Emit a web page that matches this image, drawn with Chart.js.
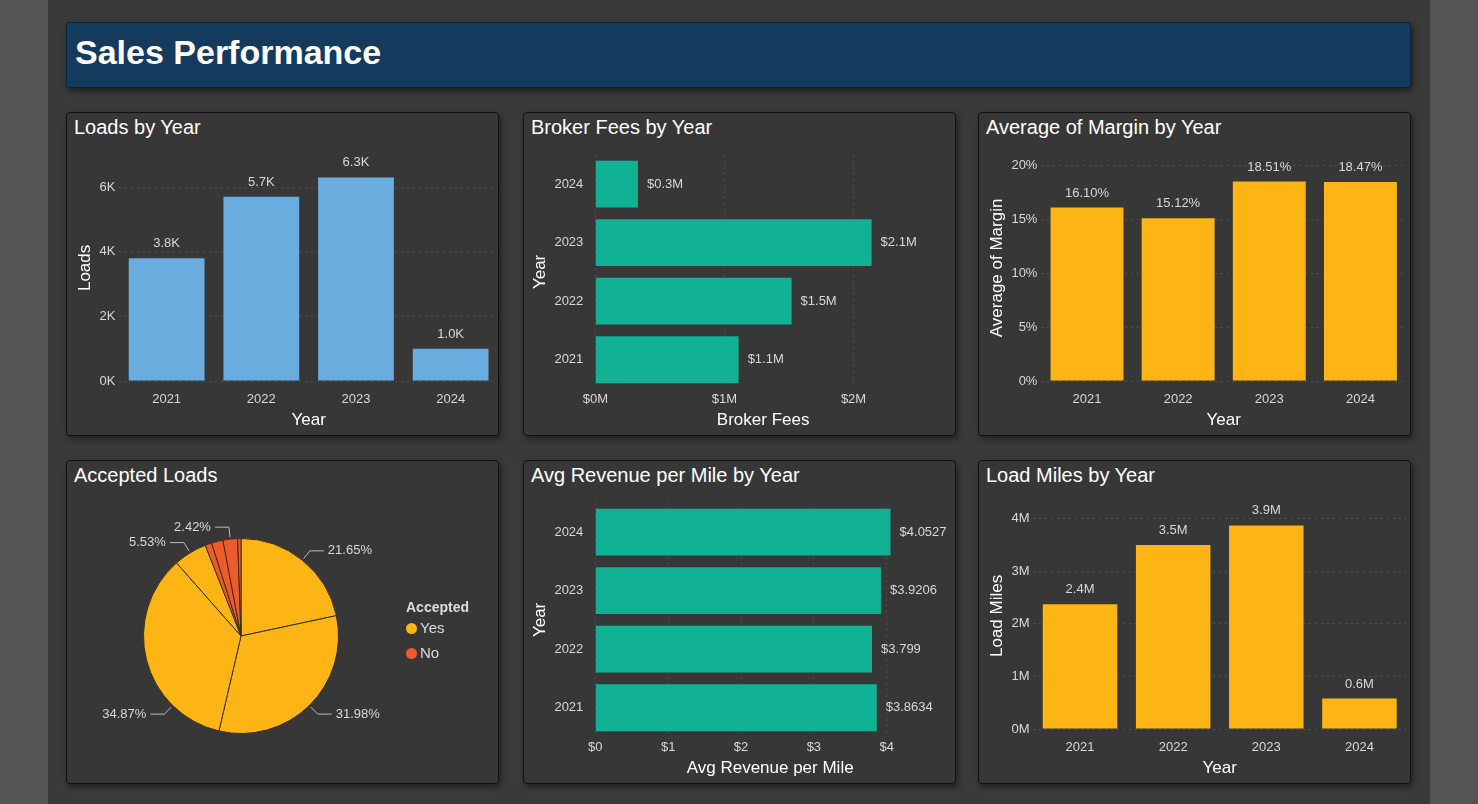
<!DOCTYPE html>
<html>
<head>
<meta charset="utf-8">
<script src="https://cdn.jsdelivr.net/npm/chart.js@4.4.0/dist/chart.umd.min.js"></script>
<style>
  html, body { margin: 0; padding: 0; }
  body { width: 1478px; height: 804px; background: #555; font-family: "Segoe UI", "Open Sans", Arial, sans-serif; position: relative; overflow: hidden; }
  .page { position: absolute; left: 48px; top: 0; width: 1382px; height: 804px; background: #3a3a3a; }
  .header { position: absolute; left: 66px; top: 22px; width: 1343px; height: 64px; background: #143a5e; border: 1px solid #0c2238; border-radius: 3px; box-shadow: 2px 3px 6px rgba(0,0,0,.5); }
  .header h1 { margin: 0; color: #fff; font: bold 34px "Liberation Sans", Arial, sans-serif; position: absolute; left: 8px; top: 10px; }
  .panel { position: absolute; width: 431px; height: 322px; background: #373737; border: 1px solid #111; border-radius: 4px; box-shadow: 2px 3px 6px rgba(0,0,0,.45); }
  .panel .t { position: absolute; left: 7px; top: 3px; color: #fff; font: 20px "Liberation Sans", Arial, sans-serif; }
  .panel canvas { position: absolute; left: 0; top: 30px; }
  .legend { position: absolute; left: 339px; top: 138px; color: #ddd; font: 15px "Liberation Sans", Arial, sans-serif; }
  .legend b { display: block; font-size: 14px; margin-bottom: 4px; }
  .legend div { margin-bottom: 8px; }
  .legend i { display: inline-block; width: 11px; height: 11px; border-radius: 50%; margin-right: 3px; vertical-align: -1px; }
</style>
</head>
<body>
<div class="page"></div>
<div class="header"><h1>Sales Performance</h1></div>
<div class="panel" style="left:66px;top:112px"><div class="t">Loads by Year</div><canvas id="c1" width="431" height="290"></canvas></div>
<div class="panel" style="left:523px;top:112px"><div class="t">Broker Fees by Year</div><canvas id="c2" width="431" height="290"></canvas></div>
<div class="panel" style="left:978px;top:112px"><div class="t">Average of Margin by Year</div><canvas id="c3" width="431" height="290"></canvas></div>
<div class="panel" style="left:66px;top:460px"><div class="t">Accepted Loads</div><canvas id="c4" width="431" height="290"></canvas>
  <div class="legend"><b>Accepted</b><div><i style="background:#fdb515"></i>Yes</div><div><i style="background:#ef5a2a"></i>No</div></div></div>
<div class="panel" style="left:523px;top:460px"><div class="t">Avg Revenue per Mile by Year</div><canvas id="c5" width="431" height="290"></canvas></div>
<div class="panel" style="left:978px;top:460px"><div class="t">Load Miles by Year</div><canvas id="c6" width="431" height="290"></canvas></div>
<script>
// data
const years = ['2021', '2022', '2023', '2024'];
const yearsDesc = ['2024', '2023', '2022', '2021'];
const loads = [3800, 5700, 6300, 1000];
const loadsTicks = [0, 2000, 4000, 6000];
const brokerFees = [0.33, 2.14, 1.52, 1.11];          // $M, 2024..2021
const brokerTicks = [0, 1, 2];
const margin = [16.10, 15.12, 18.51, 18.47];           // %
const marginTicks = [0, 5, 10, 15, 20];
const acceptedShares = [21.65, 31.98, 34.87, 5.53, 1.1, 1.9, 2.42, 0.55];
const acceptedFlags = ['Yes', 'Yes', 'Yes', 'Yes', 'No', 'No', 'No', 'No'];
const acceptedLabels = ['21.65%', '31.98%', '34.87%', '5.53%', '', '', '2.42%', ''];
const revPerMile = [4.0527, 3.9206, 3.799, 3.8634];    // 2024..2021
const revPerMileLabels = ['$4.0527', '$3.9206', '$3.799', '$3.8634'];
const revTicks = [0, 1, 2, 3, 4];
const loadMiles = [2.37, 3.5, 3.87, 0.58];             // M
const milesTicks = [0, 1, 2, 3, 4];

const FONT = 'Liberation Sans, Arial, sans-serif';
const TXT = '#d8d8d8';
Chart.defaults.font.family = FONT;
Chart.defaults.color = TXT;
Chart.defaults.animation = false;

// draws value labels above / beside bars
const valueLabels = {
  id: 'valueLabels',
  afterDatasetsDraw(chart, args, opts) {
    const ctx = chart.ctx;
    const meta = chart.getDatasetMeta(0);
    ctx.save();
    ctx.font = '13px ' + FONT;
    ctx.fillStyle = TXT;
    meta.data.forEach((el, i) => {
      const txt = opts.texts[i];
      if (chart.options.indexAxis === 'y') {
        ctx.textAlign = 'left'; ctx.textBaseline = 'middle';
        ctx.fillText(txt, el.x + 9, el.y);
      } else {
        ctx.textAlign = 'center'; ctx.textBaseline = 'bottom';
        ctx.fillText(txt, el.x, el.y - 8);
      }
    });
    ctx.restore();
  }
};

function axisTitle(text) {
  return { display: true, text: text, color: '#fff', font: { size: 17, family: FONT }, padding: 0 };
}

function barChart(id, labels, data, color, texts, opt) {
  const horiz = opt.horizontal;
  const valAxis = {
    min: 0, max: opt.max,
    grid: { color: 'rgba(255,255,255,0.13)', drawTicks: false },
    border: { display: false, dash: [2, 4] },
    afterBuildTicks: axis => { axis.ticks = opt.ticks.map(v => ({ value: v })); },
    ticks: { font: { size: 13 }, padding: horiz ? 3 : 4, autoSkip: false, callback: v => opt.fmt(v) },
    title: axisTitle(opt.valTitle)
  };
  const catAxis = {
    grid: { display: false }, border: { display: false },
    ticks: { font: { size: 13 }, padding: horiz ? 4 : 3 },
    title: axisTitle(opt.catTitle)
  };
  return new Chart(document.getElementById(id), {
    type: 'bar',
    data: { labels: labels, datasets: [{ data: data, backgroundColor: color, barPercentage: 0.8, categoryPercentage: 1 }] },
    options: {
      responsive: false,
      indexAxis: horiz ? 'y' : 'x',
      layout: { padding: opt.pad },
      plugins: { legend: { display: false }, tooltip: { enabled: false }, valueLabels: { texts: texts } },
      scales: horiz ? { x: valAxis, y: catAxis } : { x: catAxis, y: valAxis }
    },
    plugins: [valueLabels]
  });
}

barChart('c1', years, loads, '#6cade0', ['3.8K', '5.7K', '6.3K', '1.0K'],
  { max: 7000, ticks: loadsTicks, fmt: v => (v / 1000) + 'K', valTitle: 'Loads', catTitle: 'Year',
    pad: { left: 8, right: 0, top: 10, bottom: 2 } });

barChart('c2', yearsDesc, brokerFees, '#11b293', ['$0.3M', '$2.1M', '$1.5M', '$1.1M'],
  { horizontal: true, max: 2.6, ticks: brokerTicks, fmt: v => '$' + v + 'M', valTitle: 'Broker Fees', catTitle: 'Year',
    pad: { left: 6, right: 24, top: 2, bottom: 2 } });

barChart('c3', years, margin, '#fdb515', ['16.10%', '15.12%', '18.51%', '18.47%'],
  { max: 21, ticks: marginTicks, fmt: v => v + '%', valTitle: 'Average of Margin', catTitle: 'Year',
    pad: { left: 8, right: 4, top: 10, bottom: 2 } });

barChart('c5', yearsDesc, revPerMile, '#11b293', revPerMileLabels,
  { horizontal: true, max: 4.8, ticks: revTicks, fmt: v => '$' + v, valTitle: 'Avg Revenue per Mile', catTitle: 'Year',
    pad: { left: 6, right: 10, top: 2, bottom: 2 } });

barChart('c6', years, loadMiles, '#fdb515', ['2.4M', '3.5M', '3.9M', '0.6M'],
  { max: 4.3, ticks: milesTicks, fmt: v => v + 'M', valTitle: 'Load Miles', catTitle: 'Year',
    pad: { left: 8, right: 4, top: 10, bottom: 2 } });

// pie with callout labels
const pieCallouts = {
  id: 'pieCallouts',
  afterDatasetsDraw(chart) {
    const ctx = chart.ctx;
    const meta = chart.getDatasetMeta(0);
    ctx.save();
    ctx.font = '13px ' + FONT;
    ctx.strokeStyle = '#bbb';
    ctx.fillStyle = TXT;
    ctx.lineWidth = 1;
    meta.data.forEach((arc, i) => {
      const txt = acceptedLabels[i];
      if (!txt) return;
      // the big slice's callout sits toward its lower end
      const a = i === 2 ? arc.startAngle + (arc.endAngle - arc.startAngle) * 0.25 : (arc.startAngle + arc.endAngle) / 2;
      const r = arc.outerRadius;
      const x1 = arc.x + Math.cos(a) * (r + 2), y1 = arc.y + Math.sin(a) * (r + 2);
      const x2 = arc.x + Math.cos(a) * (r + 12), y2 = arc.y + Math.sin(a) * (r + 12);
      const right = Math.cos(a) >= 0;
      const x3 = x2 + (right ? 14 : -14);
      ctx.beginPath(); ctx.moveTo(x1, y1); ctx.lineTo(x2, y2); ctx.lineTo(x3, y2); ctx.stroke();
      ctx.textBaseline = 'middle';
      ctx.textAlign = right ? 'left' : 'right';
      ctx.fillText(txt, x3 + (right ? 4 : -4), y2);
    });
    ctx.restore();
  }
};

new Chart(document.getElementById('c4'), {
  type: 'pie',
  data: {
    labels: acceptedFlags,
    datasets: [{
      data: acceptedShares,
      backgroundColor: acceptedFlags.map(f => f === 'Yes' ? '#fdb515' : '#ef5a2a'),
      borderColor: '#3a3020', borderWidth: 1
    }]
  },
  options: {
    responsive: false,
    layout: { padding: { left: 76, right: 159, top: 47, bottom: 47 } },
    plugins: { tooltip: { enabled: false }, legend: { display: false } }
  },
  plugins: [pieCallouts]
});
</script>
</body>
</html>
